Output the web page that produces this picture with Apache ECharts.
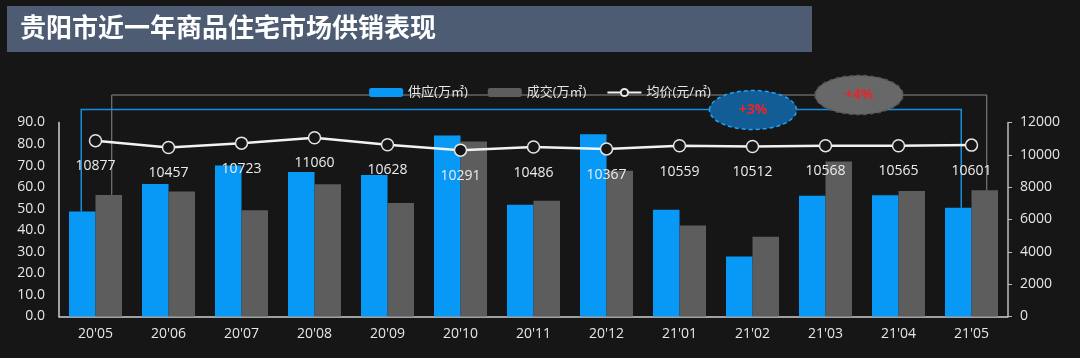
<!DOCTYPE html>
<html><head><meta charset="utf-8">
<script src="https://cdn.jsdelivr.net/npm/echarts@6/dist/echarts.min.js"></script>
<style>html,body{margin:0;padding:0;background:#161616;}#c{width:1080px;height:358px;}</style>
</head><body><div id="c"></div>
<script>
const categories = ["20'05","20'06","20'07","20'08","20'09","20'10","20'11","20'12","21'01","21'02","21'03","21'04","21'05"];
const supply = [48.7, 61.5, 70.0, 67.0, 65.7, 84.0, 51.8, 84.6, 49.5, 27.8, 56.0, 56.3, 50.4];
const deal = [56.4, 58.0, 49.3, 61.4, 52.6, 81.2, 53.7, 67.6, 42.2, 37.0, 71.9, 58.2, 58.6];
const price = [10877, 10457, 10723, 11060, 10628, 10291, 10486, 10367, 10559, 10512, 10568, 10565, 10601];
const seriesNames = ['供应(万㎡)', '成交(万㎡)', '均价(元/㎡)'];
const titleText = '贵阳市近一年商品住宅市场供销表现';
const supplyChange = '+3%';
const dealChange = '+4%';

const FONT = '"Open Sans","Noto Sans CJK SC",sans-serif';
const chart = echarts.init(document.getElementById('c'), null, {renderer: 'canvas'});
const BW = 26.5;
chart.setOption({
  backgroundColor: '#161616',
  animation: false,
  textStyle: {fontFamily: FONT},
  legend: {
    top: 81, left: 'center', itemWidth: 34, itemHeight: 9, itemGap: 20,
    textStyle: {color: '#e6e6e6', fontSize: 13, fontFamily: FONT},
    data: [
      {name: seriesNames[0]},
      {name: seriesNames[1]},
      {name: seriesNames[2]}
    ]
  },
  grid: {left: 59, right: 72, top: 122.5, bottom: 41.5, containLabel: false},
  xAxis: {
    type: 'category', data: categories,
    axisLine: {lineStyle: {color: '#d0d0d0', width: 1.5}},
    axisTick: {show: false},
    axisLabel: {color: '#e6e6e6', fontSize: 14, margin: 11, fontFamily: FONT}
  },
  yAxis: [
    {type: 'value', min: 0, max: 90, interval: 10,
     axisLine: {show: true, lineStyle: {color: '#d0d0d0', width: 1.5}},
     axisTick: {show: false}, splitLine: {show: false},
     axisLabel: {color: '#e6e6e6', fontSize: 14, margin: 14, formatter: v => v.toFixed(1), fontFamily: FONT}},
    {type: 'value', min: 0, max: 12000, interval: 2000,
     axisLine: {show: true, lineStyle: {color: '#bdbdbd', width: 1.5}},
     axisTick: {show: true, inside: false, length: 4, lineStyle: {color: '#bdbdbd'}},
     splitLine: {show: false},
     axisLabel: {color: '#e6e6e6', fontSize: 14, margin: 12, formatter: v => String(v), fontFamily: FONT}}
  ],
  series: [
    {name: seriesNames[0], type: 'bar', data: supply, barWidth: BW, barGap: '0%',
     itemStyle: {color: '#0899f7'}, z: 2},
    {name: seriesNames[1], type: 'bar', data: deal, barWidth: BW, barGap: '0%',
     itemStyle: {color: '#5d5d5d'}, z: 2},
    {name: seriesNames[2], type: 'line', yAxisIndex: 1, data: price,
     symbol: 'circle', symbolSize: 12, showAllSymbol: true,
     lineStyle: {color: '#f2f2f2', width: 2.5},
     itemStyle: {color: '#161616', borderColor: '#e6e6e6', borderWidth: 1.5},
     label: {show: true, position: 'bottom', distance: 12, color: '#ececec', fontSize: 14, fontFamily: FONT},
     z: 5}
  ]
});

// annotation overlay computed from the chart's own scales
const n = categories.length - 1;
const half = BW / 2;
const pS0 = chart.convertToPixel({xAxisIndex: 0, yAxisIndex: 0}, [0, supply[0]]);
const pS1 = chart.convertToPixel({xAxisIndex: 0, yAxisIndex: 0}, [n, supply[n]]);
const pD0 = chart.convertToPixel({xAxisIndex: 0, yAxisIndex: 0}, [0, deal[0]]);
const pD1 = chart.convertToPixel({xAxisIndex: 0, yAxisIndex: 0}, [n, deal[n]]);
const sx0 = pS0[0] - half - 1, sx1 = pS1[0] - half + 3;
const dx0 = pD0[0] + half + 3, dx1 = pD1[0] + half + 2;
const blueY = 109.5, grayY = 95;

chart.setOption({
  graphic: [
    {type: 'rect', left: 7, top: 6, shape: {width: 805, height: 46}, style: {fill: '#4d5b73'}, z: 10},
    {type: 'text', left: 20, top: 14, style: {text: titleText, fill: '#ffffff', font: 'bold 26px "Noto Sans CJK SC",sans-serif'}, z: 11},
    {type: 'polyline', shape: {points: [[dx0, pD0[1]], [dx0, grayY], [dx1, grayY], [dx1, pD1[1]]]},
     style: {stroke: '#8a8a8a', lineWidth: 1, fill: null}, z: 1},
    {type: 'polyline', shape: {points: [[sx0, pS0[1]], [sx0, blueY], [sx1, blueY], [sx1, pS1[1]]]},
     style: {stroke: '#1590e0', lineWidth: 1.5, fill: null}, z: 1},
    {type: 'ellipse', shape: {cx: 753, cy: 110, rx: 43.5, ry: 19.5},
     style: {fill: '#125d95', stroke: '#1ea3f5', lineWidth: 1.5, lineDash: [4, 3]}, z: 12},
    {type: 'text', x: 753, y: 110, style: {text: supplyChange, fill: '#e8262a', font: 'bold 14px "Open Sans",sans-serif', textAlign: 'center', textVerticalAlign: 'middle'}, z: 13},
    {type: 'ellipse', shape: {cx: 859, cy: 95, rx: 44, ry: 19.5},
     style: {fill: '#686868', stroke: '#555555', lineWidth: 1.5, lineDash: [4, 3]}, z: 12},
    {type: 'text', x: 859, y: 95, style: {text: dealChange, fill: '#e8262a', font: 'bold 14px "Open Sans",sans-serif', textAlign: 'center', textVerticalAlign: 'middle'}, z: 13}
  ]
});
</script>
</body></html>
